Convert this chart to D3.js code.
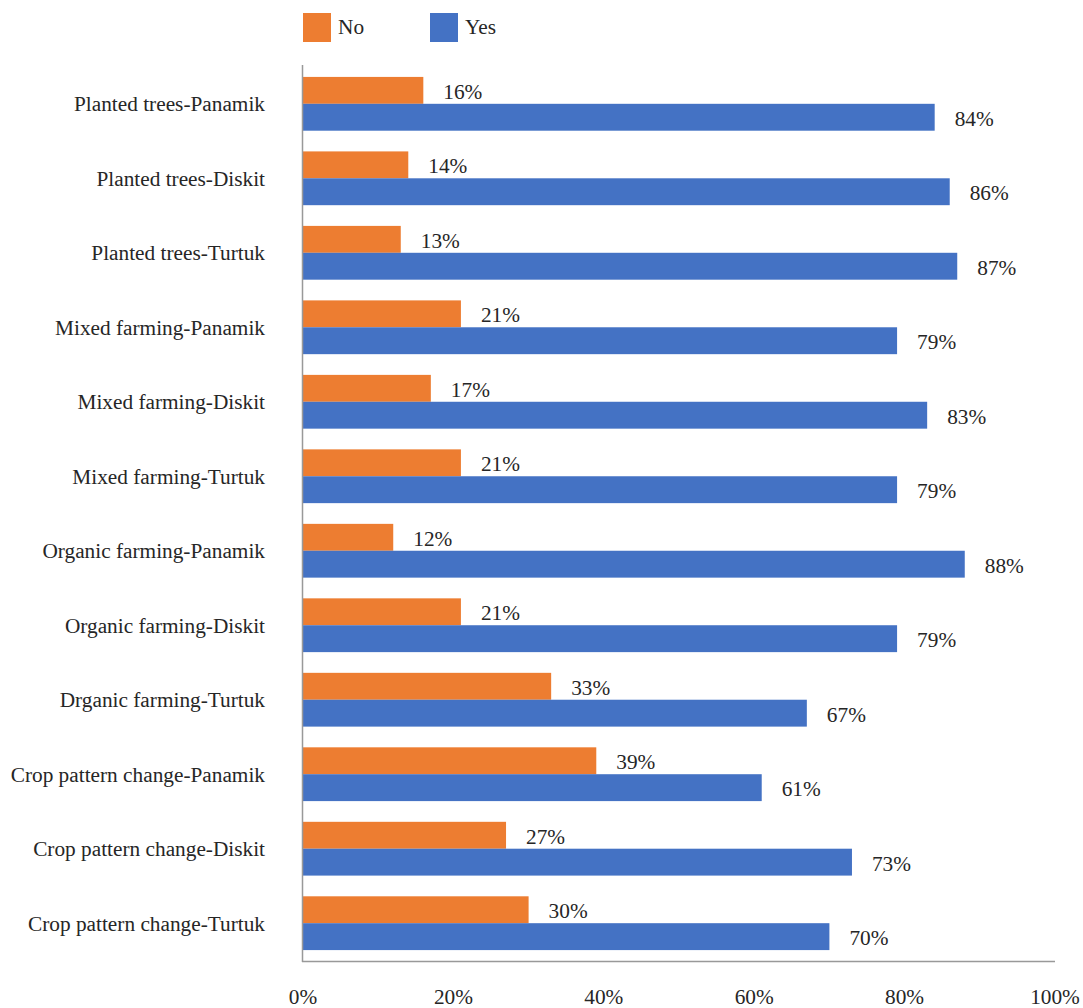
<!DOCTYPE html>
<html><head><meta charset="utf-8">
<script src="https://cdn.jsdelivr.net/npm/d3@7"></script>
<style>body{margin:0;background:#fff}svg{display:block}text{font-family:"Liberation Serif","Times New Roman",serif;fill:#262626}</style>
</head><body><svg id="c" width="1083" height="1008"></svg>
<script>
const categories = ["Planted trees-Panamik","Planted trees-Diskit","Planted trees-Turtuk","Mixed farming-Panamik","Mixed farming-Diskit","Mixed farming-Turtuk","Organic farming-Panamik","Organic farming-Diskit","Drganic farming-Turtuk","Crop pattern change-Panamik","Crop pattern change-Diskit","Crop pattern change-Turtuk"];
const seriesNames = ["No","Yes"];
const noValues = [16,14,13,21,17,21,12,21,33,39,27,30];
const yesValues = [84,86,87,79,83,79,88,79,67,61,73,70];
const tickValues = [0,20,40,60,80,100];
const colors = {No:"#ED7D31", Yes:"#4472C4"};

(function(){
const svg = d3.select("#c");
const fs = 21.3;
const mL = 303, mR = 1055, mT = 65, mB = 962;
const x = d3.scaleLinear().domain([0,100]).range([mL,mR]);
const y = d3.scaleBand().domain(categories).range([mT,mB]).paddingInner(0.278).paddingOuter(0.16);
const sub = d3.scaleBand().domain(seriesNames).range([0,y.bandwidth()]);

const data = categories.map((c,i)=>({c, No:noValues[i], Yes:yesValues[i]}));
const g = svg.append("g");
seriesNames.forEach(s=>{
  g.selectAll(".b"+s).data(data).enter().append("rect")
    .attr("x",x(0)).attr("y",d=>y(d.c)+sub(s)).attr("width",d=>x(d[s])-x(0)).attr("height",sub.bandwidth())
    .attr("fill",colors[s]);
  g.selectAll(".l"+s).data(data).enter().append("text")
    .attr("x",d=>x(d[s])+20).attr("y",d=>y(d.c)+sub(s)+sub.bandwidth()/2+1).attr("dy","0.35em")
    .attr("font-size",fs).text(d=>d[s]+"%");
});
svg.selectAll(".cat").data(categories).enter().append("text")
  .attr("x",265).attr("y",d=>y(d)+y.bandwidth()/2).attr("dy","0.35em").attr("text-anchor","end")
  .attr("font-size",fs).text(d=>d);
svg.append("line").attr("x1",mL-0.5).attr("x2",mL-0.5).attr("y1",mT).attr("y2",mB).attr("stroke","#999").attr("stroke-width",1.5);
svg.append("line").attr("x1",mL-1).attr("x2",mR).attr("y1",mB-0.5).attr("y2",mB-0.5).attr("stroke","#999").attr("stroke-width",1.5);
svg.selectAll(".tk").data(tickValues).enter().append("text")
  .attr("x",d=>x(d)).attr("y",1004).attr("text-anchor","middle").attr("font-size",fs).text(d=>d+"%");
seriesNames.forEach((s,i)=>{
  const lx = 303 + i*127;
  svg.append("rect").attr("x",lx).attr("y",13).attr("width",28).attr("height",29).attr("fill",colors[s]);
  svg.append("text").attr("x",lx+35).attr("y",26.5).attr("dy","0.35em").attr("font-size",fs).text(s);
});
})();
</script></body></html>
